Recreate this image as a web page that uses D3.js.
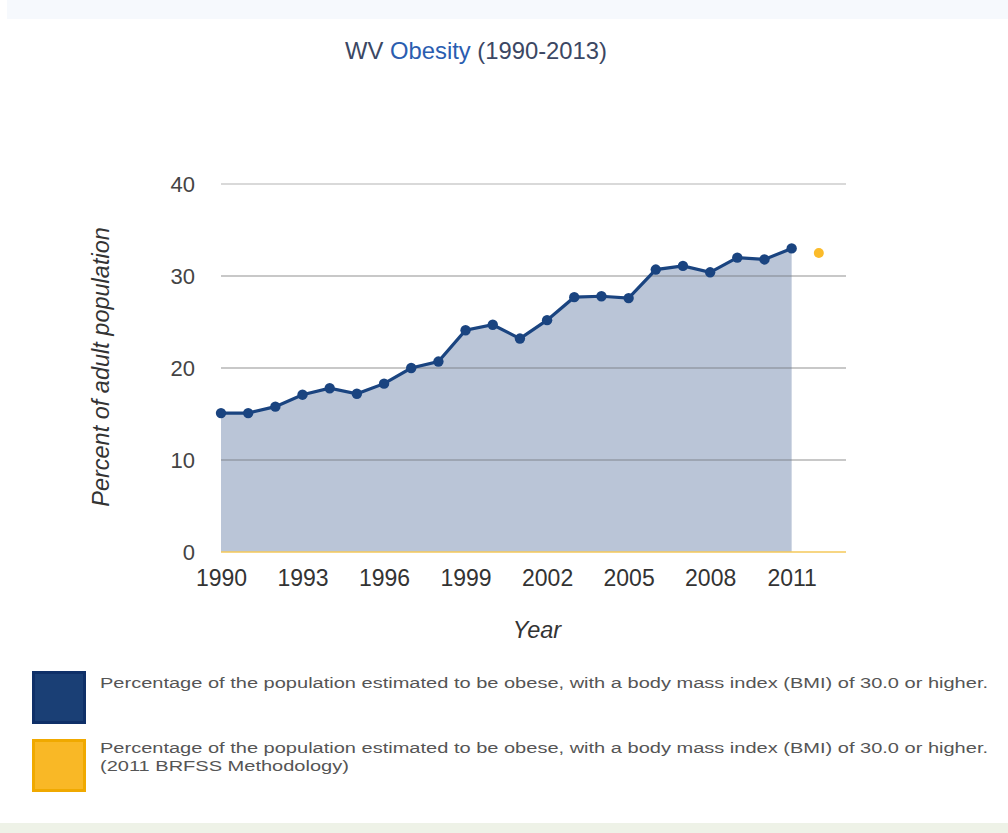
<!DOCTYPE html>
<html>
<head>
<meta charset="utf-8">
<script src="https://cdn.jsdelivr.net/npm/d3@7/dist/d3.min.js"></script>
<style>
  html, body { margin: 0; padding: 0; background: #ffffff; }
  svg { display: block; font-family: "Liberation Sans", Arial, sans-serif; }
</style>
</head>
<body>
<svg id="chart" width="1008" height="833"></svg>
<script>
// ---- Data ----
const years = [1990,1991,1992,1993,1994,1995,1996,1997,1998,1999,2000,2001,2002,2003,2004,2005,2006,2007,2008,2009,2010,2011];
const obesity = [15.1,15.1,15.8,17.1,17.8,17.2,18.3,20.0,20.7,24.1,24.7,23.2,25.2,27.7,27.8,27.6,30.7,31.1,30.4,32.0,31.8,33.0];
const newMethodYears = [2012];
const newMethodValues = [32.5];
const xTicks = [1990,1993,1996,1999,2002,2005,2008,2011];
const yTicks = [0,10,20,30,40];
const legendLabels = [
  ["Percentage of the population estimated to be obese, with a body mass index (BMI) of 30.0 or higher."],
  ["Percentage of the population estimated to be obese, with a body mass index (BMI) of 30.0 or higher.", "(2011 BRFSS Methodology)"]
];

const svg = d3.select("#chart");

// background bands
svg.append("rect").attr("x", 7).attr("y", 0).attr("width", 1001).attr("height", 19).attr("fill", "#f6f9fd");
svg.append("rect").attr("x", 0).attr("y", 823).attr("width", 1008).attr("height", 10).attr("fill", "#eef2e7");

const x = d3.scaleLinear().domain([1990, 2013]).range([221, 846]);
const y = d3.scaleLinear().domain([0, 40]).range([552, 184]);

// title
const title = svg.append("text").attr("x", 476).attr("y", 59).attr("text-anchor", "middle")
  .attr("font-size", 23.8).attr("fill", "#3b4763");
title.append("tspan").text("WV ");
title.append("tspan").attr("fill", "#2a5db0").text("Obesity");
title.append("tspan").text(" (1990-2013)");

// gridlines
svg.append("g").selectAll("line").data(yTicks.filter(d => d > 0)).join("line")
  .attr("x1", x(1990)).attr("x2", x(2013))
  .attr("y1", d => y(d)).attr("y2", d => y(d))
  .attr("stroke", "#cccccc").attr("stroke-width", 1.3);

// area
const data = years.map((yr, i) => ({yr, v: obesity[i]}));
svg.append("path").datum(data)
  .attr("d", d3.area().x(d => x(d.yr)).y0(y(0)).y1(d => y(d.v)))
  .attr("fill", "#1a3f7a").attr("fill-opacity", 0.3);

// grid lines over area
svg.append("g").selectAll("line").data(yTicks.filter(d => d > 0 && d < 40)).join("line")
  .attr("x1", x(1990)).attr("x2", x(2013))
  .attr("y1", d => y(d)).attr("y2", d => y(d))
  .attr("stroke", "#999999").attr("stroke-opacity", 0.35).attr("stroke-width", 1.3);

// baseline
svg.append("line").attr("x1", x(1990)).attr("x2", x(2013))
  .attr("y1", y(0)).attr("y2", y(0)).attr("stroke", "#f5c95a").attr("stroke-width", 1.5);

// line
svg.append("path").datum(data)
  .attr("d", d3.line().x(d => x(d.yr)).y(d => y(d.v)))
  .attr("fill", "none").attr("stroke", "#1a4480").attr("stroke-width", 3.2);

svg.append("g").selectAll("circle").data(data).join("circle")
  .attr("cx", d => x(d.yr)).attr("cy", d => y(d.v)).attr("r", 5.2)
  .attr("fill", "#1a4480");

svg.append("g").selectAll("circle").data(newMethodYears.map((yr, i) => ({yr, v: newMethodValues[i]}))).join("circle")
  .attr("cx", d => x(d.yr)).attr("cy", d => y(d.v)).attr("r", 5)
  .attr("fill", "#fbbb2a");

// y axis
const yAxis = svg.append("g").attr("transform", "translate(200,0)")
  .call(d3.axisLeft(y).tickValues(yTicks).tickSize(0).tickPadding(5));
yAxis.select(".domain").remove();
yAxis.selectAll("text").attr("font-size", 22).attr("fill", "#444").attr("font-family", "Liberation Sans, Arial, sans-serif");

// x axis
const xAxis = svg.append("g").attr("transform", "translate(0,565)")
  .call(d3.axisBottom(x).tickValues(xTicks).tickFormat(d3.format("d")).tickSize(0).tickPadding(5));
xAxis.select(".domain").remove();
xAxis.selectAll("text").attr("font-size", 23).attr("fill", "#333").attr("font-family", "Liberation Sans, Arial, sans-serif");

// axis titles
svg.append("text").attr("transform", "translate(109,367) rotate(-90)")
  .attr("text-anchor", "middle").attr("font-size", 23.5).attr("font-style", "italic").attr("fill", "#333")
  .text("Percent of adult population");
svg.append("text").attr("x", 537).attr("y", 638).attr("text-anchor", "middle")
  .attr("font-size", 23.5).attr("font-style", "italic").attr("fill", "#333").text("Year");

// legend
const legendColors = [["#1a3f75", "#0f3068"], ["#f9b826", "#f0a900"]];
const legendTops = [672, 740];
const legendBaselines = [[688], [753, 771]];
const legendFont = 15.5;
let stretch = null;
legendLabels.forEach((lines, i) => {
  svg.append("rect").attr("x", 33.5).attr("y", legendTops[i] + 0.5).attr("width", 51).attr("height", 50)
    .attr("fill", legendColors[i][0]).attr("stroke", legendColors[i][1]).attr("stroke-width", 3);
  lines.forEach((ln, j) => {
    const t = svg.append("text").attr("x", 100).attr("y", legendBaselines[i][j])
      .attr("font-size", legendFont).attr("fill", "#555").text(ln);
    const w = t.node().getComputedTextLength();
    if (stretch === null) stretch = 888 / w;
    t.attr("textLength", w * stretch).attr("lengthAdjust", "spacingAndGlyphs");
  });
});
</script>
</body>
</html>
